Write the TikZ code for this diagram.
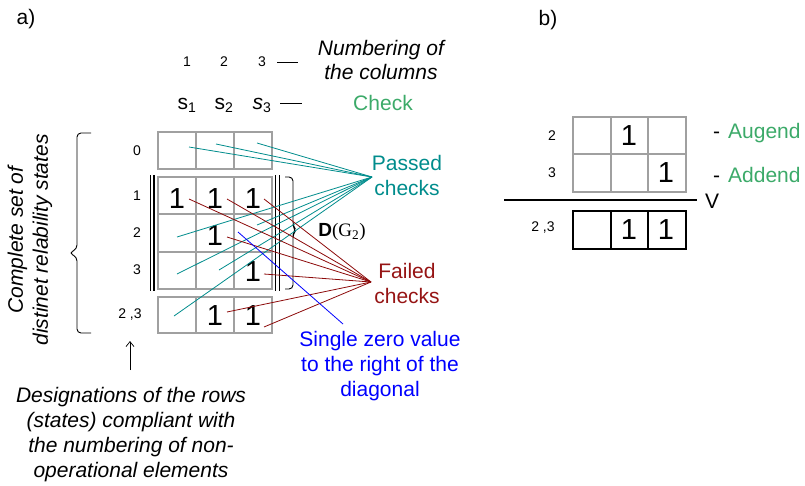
\documentclass[tikz,border=0pt]{standalone}
\usepackage{fontspec}
\setmainfont{Liberation Sans}
\newfontfamily\serifnum{Liberation Serif}
\usetikzlibrary{arrows.meta}
\definecolor{tealc}{RGB}{0,140,140}
\definecolor{redc}{RGB}{140,10,10}
\definecolor{failc}{RGB}{150,20,20}
\definecolor{greenc}{RGB}{60,170,105}
\definecolor{bluec}{RGB}{0,0,255}
\definecolor{gridc}{RGB}{160,160,160}
\begin{document}
\begin{tikzpicture}[x=1pt,y=-1pt,
  lbl/.style={font=\fontsize{14}{16}\selectfont, inner sep=0pt},
  big/.style={font=\fontsize{29}{30}\selectfont, inner sep=0pt},
  note/.style={font=\fontsize{21}{24}\selectfont\itshape, align=center, inner sep=0pt},
  ctext/.style={font=\fontsize{21}{25}\selectfont, align=center, inner sep=0pt},
  chk/.style={inner sep=0pt, anchor=base, font=\fontsize{21}{24}\selectfont},
  gridline/.style={draw=gridc, line width=1.1pt},
  resline/.style={draw=black, line width=1.1pt},
  bar/.style={line width=1.6pt},
  pass/.style={draw=tealc, line width=0.8pt},
  fail/.style={draw=redc, line width=0.8pt},
  zero/.style={draw=bluec, line width=0.8pt}]
\useasboundingbox (0,0) rectangle (805,485);

% ---------- a) ----------
\node[ctext] (la) at (26,19) {a)};

% column numbering
\node[lbl] (c1) at (187,62) {1};
\node[lbl] (c2) at (224,62) {2};
\node[lbl] (c3) at (262,62) {3};
\coordinate (d1a) at (277,62); \coordinate (d1b) at (298,62);
\draw[line width=0.8pt] (d1a) -- (d1b);
\node[note] (numcol) at (381,60) {Numbering of\\the columns};

% checks
\node[chk] (s1) at (187,109) {s\textsubscript{\fontsize{14}{14}\selectfont 1}};
\node[chk] (s2) at (224,109) {s\textsubscript{\fontsize{14}{14}\selectfont 2}};
\node[chk] (s3) at (262,109) {\textit{s}\textsubscript{\fontsize{14}{14}\selectfont 3}};
\coordinate (d2a) at (280,103); \coordinate (d2b) at (302,103);
\draw[line width=0.8pt] (d2a) -- (d2b);
\node[ctext, text=greenc] (check) at (383,103) {Check};

% row labels
\node[lbl] (r0) at (137,151) {0};
\node[lbl] (r1) at (137,196) {1};
\node[lbl] (r2) at (137,233) {2};
\node[lbl] (r3) at (137,270) {3};
\node[lbl] (r23) at (130,315) {2 ,3};

% grids
\draw[gridline] (158,132) rectangle (272,169) (196,132) -- (196,169) (234,132) -- (234,169);
\draw[gridline] (158,177) rectangle (272,289) (196,177) -- (196,289) (234,177) -- (234,289)
  (158,214) -- (272,214) (158,252) -- (272,252);
\draw[gridline] (158,297) rectangle (272,333) (196,297) -- (196,333) (234,297) -- (234,333);

% double bars
\draw[bar] (150.5,175) -- (150.5,291) (154,175) -- (154,291);
\draw[bar] (275.5,175) -- (275.5,291) (279.5,175) -- (279.5,291);

% right bracket
\draw[line width=0.9pt, rounded corners=4pt] (285,177) -- (293,177) -- (293,226) -- (296,230) -- (293,234) -- (293,289) -- (285,289);
\node[inner sep=0pt] (dg) at (342,232) {\fontsize{19}{22}\selectfont\textbf{D}\serifnum(G\textsubscript{2})};

% left brace
\draw[line width=0.9pt, rounded corners=4pt] (91,133) -- (77,133) -- (77,249) -- (69,253) -- (77,257) -- (77,333) -- (91,333);
\node[note, font=\fontsize{21}{25}\selectfont\itshape, rotate=90] (complete) at (30,240) {Complete set of\\distinet relability states};

% ones
\node[big] (o11) at (177,198.5) {1};
\node[big] (o12) at (215,198.5) {1};
\node[big] (o13) at (253,198.5) {1};
\node[big] (o22) at (215,236) {1};
\node[big] (o33) at (253,272) {1};
\node[big] (o232) at (215,316) {1};
\node[big] (o233) at (253,316) {1};

% passed checks
\node[ctext, text=tealc] (passed) at (407,175.5) {Passed\\checks};
\coordinate (pc) at (372,177);
\coordinate (p1) at (189,147);
\coordinate (p2) at (216,144);
\coordinate (p3) at (257,143);
\coordinate (p4) at (177,237);
\coordinate (p5) at (257,225);
\coordinate (p6) at (177,274);
\coordinate (p7) at (219,270);
\coordinate (p8) at (174,316);
\foreach \i in {1,...,8} \draw[pass] (p\i) -- (pc);

% failed checks
\node[ctext, text=failc] (failed) at (407,283.5) {Failed\\checks};
\coordinate (fc) at (371,282);
\coordinate (f1) at (189,199);
\coordinate (f2) at (227,199);
\coordinate (f3) at (264,199);
\coordinate (f4) at (227,237);
\coordinate (f5) at (264,274);
\coordinate (f6) at (227,312);
\coordinate (f7) at (264,327);
\foreach \i in {1,...,7} \draw[fail] (f\i) -- (fc);

% single zero
\coordinate (z0) at (238,232);
\coordinate (z1) at (343,324);
\draw[zero] (z0) -- (z1);
\node[ctext, text=bluec] (single) at (380,366.5) {Single zero value\\to the right of the\\diagonal};

% arrow and designations
\coordinate (a0) at (130,370);
\coordinate (a1) at (130,341);
\draw[line width=0.7pt, -{Straight Barb[length=5pt,width=8pt]}] (a0) -- (a1);
\node[note, font=\fontsize{21}{25}\selectfont\itshape] (desig) at (131,434.5) {Designations of the rows\\(states) compliant with\\the numbering of non-\\operational elements};

% ---------- b) ----------
\node[ctext] (lb) at (548,20) {b)};
\node[lbl] (b2) at (552,136) {2};
\node[lbl] (b3) at (552,173) {3};
\node[lbl] (b23) at (543,228) {2 ,3};
\draw[gridline] (573,117) rectangle (686,192) (611,117) -- (611,192) (648,117) -- (648,192) (573,154) -- (686,154);
\draw[resline] (573,211) rectangle (686,249) (611,211) -- (611,249) (648,211) -- (648,249);
\node[big] (bo1) at (629,136) {1};
\node[big] (bo2) at (666,173) {1};
\node[big] (bo3) at (629,230) {1};
\node[big] (bo4) at (666,230) {1};
\coordinate (hl0) at (504,200); \coordinate (hl1) at (697,200);
\draw[line width=2.8pt] (hl0) -- (hl1);
\node[inner sep=0pt, font=\fontsize{21}{24}\selectfont] (vee) at (712,201) {V};
\node[inner sep=0pt, anchor=west, font=\fontsize{21}{24}\selectfont] (aug) at (713,133) {-\hspace{8pt}\textcolor{greenc}{Augend}};
\node[inner sep=0pt, anchor=west, font=\fontsize{21}{24}\selectfont] (add) at (713,175) {-\hspace{8pt}\textcolor{greenc}{Addend}};
\end{tikzpicture}
\end{document}
